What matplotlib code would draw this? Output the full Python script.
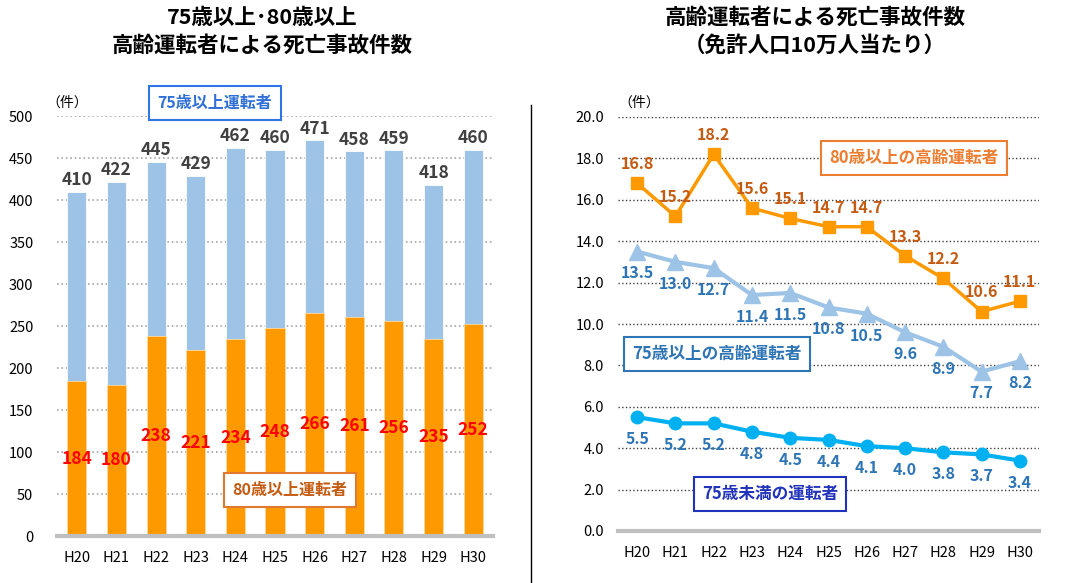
import matplotlib.pyplot as plt
from matplotlib.lines import Line2D

plt.rcParams['font.family'] = ['Noto Sans CJK JP', 'DejaVu Sans']

# Data
years = ['H20', 'H21', 'H22', 'H23', 'H24', 'H25', 'H26', 'H27', 'H28', 'H29', 'H30']
over75_count = [410, 422, 445, 429, 462, 460, 471, 458, 459, 418, 460]
over80_count = [184, 180, 238, 221, 234, 248, 266, 261, 256, 235, 252]

over80_rate = [16.8, 15.2, 18.2, 15.6, 15.1, 14.7, 14.7, 13.3, 12.2, 10.6, 11.1]
over75_rate = [13.5, 13.0, 12.7, 11.4, 11.5, 10.8, 10.5, 9.6, 8.9, 7.7, 8.2]
under75_rate = [5.5, 5.2, 5.2, 4.8, 4.5, 4.4, 4.1, 4.0, 3.8, 3.7, 3.4]

W, H = 1081, 583
fig = plt.figure(figsize=(W / 100, H / 100), dpi=100)


def rect(x0, y0, x1, y1):
    # pixel box (top-left origin) -> figure fraction
    return [x0 / W, 1 - y1 / H, (x1 - x0) / W, (y1 - y0) / H]


def px(x, y):
    return x / W, 1 - y / H


x = list(range(len(years)))

# ---------- left chart: counts ----------
ax1 = fig.add_axes(rect(57, 116, 493, 536))
ax1.bar(x, over75_count, width=0.48, color='#9DC3E6', edgecolor='white', linewidth=0.6, zorder=2)
ax1.bar(x, over80_count, width=0.48, color='#FF9900', edgecolor='#FFD9A0', linewidth=0.6, zorder=3)
ax1.set_xlim(-0.5, 10.5)
ax1.set_ylim(0, 500)
ax1.set_yticks(range(0, 501, 50))
ax1.set_xticks(x)
ax1.set_xticklabels(years)
ax1.grid(axis='y', color='#A6A6A6', linestyle=':', linewidth=1.2, zorder=0)
ax1.set_axisbelow(True)
for s in ax1.spines.values():
    s.set_visible(False)
ax1.axhline(0, color='#BFBFBF', linewidth=3, zorder=4, clip_on=False)
ax1.tick_params(axis='y', length=0, pad=17, labelsize=10.5)
ax1.tick_params(axis='x', length=0, pad=11, labelsize=10.5)

for i, v in enumerate(over75_count):
    ax1.annotate(str(v), (i, v), xytext=(0, 2), textcoords='offset points',
                 ha='center', va='bottom', fontsize=12.5, fontweight='bold', color='#404040', zorder=5)
for i, v in enumerate(over80_count):
    ax1.text(i, v / 2, str(v), ha='center', va='center', fontsize=12.5,
             fontweight='bold', color='#FF0000', zorder=5)

fig.text(*px(46, 103), '（件）', fontsize=10, ha='left', va='center')

fig.text(*px(262, 17), '75歳以上･80歳以上', fontsize=15.5, fontweight='bold', ha='center', va='center')
fig.text(*px(262, 45), '高齢運転者による死亡事故件数', fontsize=15.5, fontweight='bold', ha='center', va='center')

fig.text(*px(215, 103), '75歳以上運転者', fontsize=11.5, fontweight='bold', color='#2F6FD6',
         ha='center', va='center', zorder=6,
         bbox=dict(boxstyle='square,pad=0.55', fc='white', ec='#2F75E6', lw=1.5))
fig.text(*px(290, 490), '80歳以上運転者', fontsize=11.5, fontweight='bold', color='#C55A11',
         ha='center', va='center', zorder=6,
         bbox=dict(boxstyle='square,pad=0.55', fc='white', ec='#E07A30', lw=1.5))

# separator
fig.add_artist(Line2D([531 / W, 531 / W], [0, 1 - 105 / H], color='black', linewidth=1))

# ---------- right chart: rates ----------
ax2 = fig.add_axes(rect(618, 117, 1039, 531))
ax2.plot(x, over80_rate, color='#FF9900', linewidth=2.5, marker='s', markersize=9, zorder=3)
ax2.plot(x, over75_rate, color='#9DC3E6', linewidth=3, marker='^', markersize=11, zorder=3)
ax2.plot(x, under75_rate, color='#00B0F0', linewidth=3, marker='o', markersize=9, zorder=3)
ax2.set_xlim(-0.5, 10.5)
ax2.set_ylim(0, 20)
ax2.set_yticks([i * 2.0 for i in range(11)])
ax2.set_yticklabels(['%.1f' % (i * 2.0) for i in range(11)])
ax2.set_xticks(x)
ax2.set_xticklabels(years)
ax2.grid(axis='y', color='#404040', linestyle=':', linewidth=1.0, zorder=0)
ax2.set_axisbelow(True)
for s in ax2.spines.values():
    s.set_visible(False)
ax2.axhline(0, color='#BFBFBF', linewidth=3, zorder=4, clip_on=False)
ax2.tick_params(axis='y', length=0, pad=10, labelsize=10.5)
ax2.tick_params(axis='x', length=0, pad=11, labelsize=10.5)

for i, v in enumerate(over80_rate):
    ax2.annotate('%.1f' % v, (i, v), xytext=(0, 8), textcoords='offset points',
                 ha='center', va='bottom', fontsize=11.5, fontweight='bold', color='#C55A11')
for i, v in enumerate(over75_rate):
    ax2.annotate('%.1f' % v, (i, v), xytext=(0, -10), textcoords='offset points',
                 ha='center', va='top', fontsize=11.5, fontweight='bold', color='#2E75B6')
for i, v in enumerate(under75_rate):
    ax2.annotate('%.1f' % v, (i, v), xytext=(0, -10), textcoords='offset points',
                 ha='center', va='top', fontsize=11.5, fontweight='bold', color='#2E75B6')

fig.text(*px(618, 103), '（件）', fontsize=10, ha='left', va='center')

fig.text(*px(815, 17), '高齢運転者による死亡事故件数', fontsize=15.5, fontweight='bold', ha='center', va='center')
fig.text(*px(815, 45), '（免許人口10万人当たり）', fontsize=15.5, fontweight='bold', ha='center', va='center')

fig.text(*px(914, 158), '80歳以上の高齢運転者', fontsize=12, fontweight='bold', color='#ED7D31',
         ha='center', va='center', zorder=6,
         bbox=dict(boxstyle='square,pad=0.5', fc='white', ec='#ED7D31', lw=1.5))
fig.text(*px(717, 354), '75歳以上の高齢運転者', fontsize=12, fontweight='bold', color='#2E75B6',
         ha='center', va='center', zorder=6,
         bbox=dict(boxstyle='square,pad=0.5', fc='white', ec='#2E75B6', lw=1.5))
fig.text(*px(770, 494), '75歳未満の運転者', fontsize=12, fontweight='bold', color='#2233BB',
         ha='center', va='center', zorder=6,
         bbox=dict(boxstyle='square,pad=0.5', fc='white', ec='#2233BB', lw=1.5))

fig.savefig('out.png', dpi=100)
